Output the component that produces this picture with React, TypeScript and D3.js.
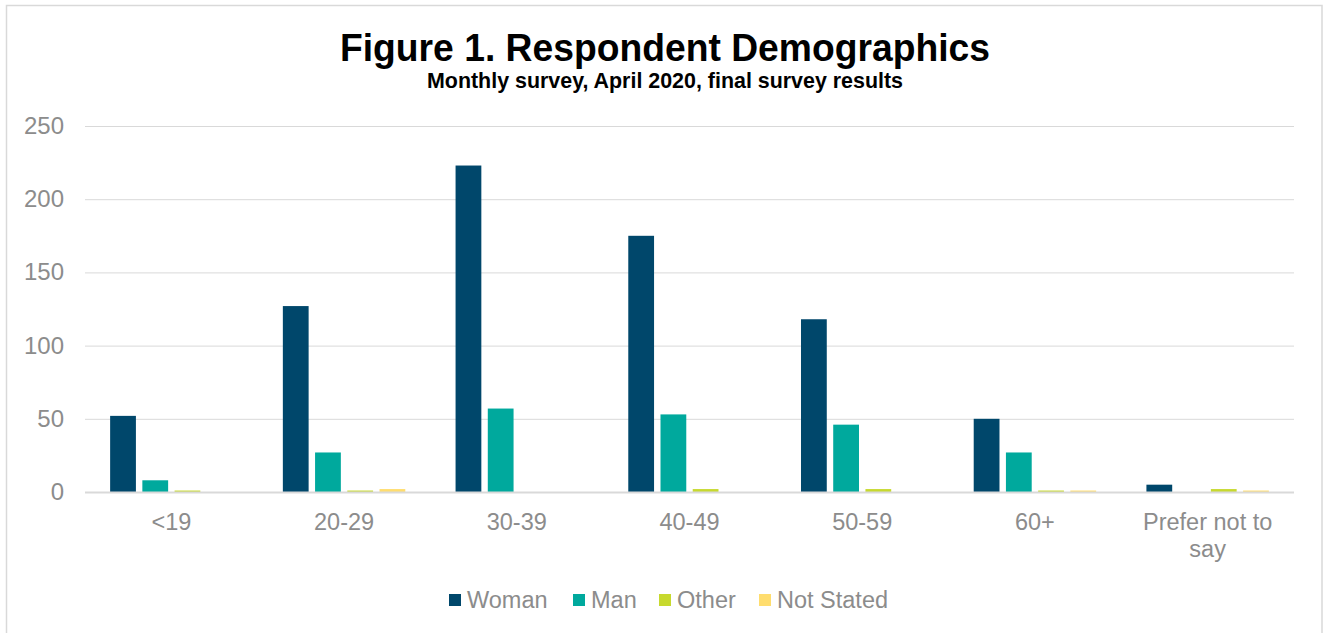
import React from "react";
import * as d3 from "d3";

const categories = ["<19", "20-29", "30-39", "40-49", "50-59", "60+", "Prefer not to say"];
const seriesNames = ["Woman", "Man", "Other", "Not Stated"];
const woman = [52, 127, 223, 175, 118, 50, 5];
const man = [8, 27, 57, 53, 46, 27, 0];
const other = [1, 1, 0, 2, 2, 1, 2];
const notStated = [0, 2, 0, 0, 0, 1, 1];
const yTicks = [0, 50, 100, 150, 200, 250];
const colors = ["#00476B", "#00A99D", "#C7D92E", "#FFDD6E"];

const W = 1324;
const H = 633;
const FONT = "'Liberation Sans', Arial, sans-serif";

export default function App() {
  const values = [woman, man, other, notStated];
  const left = 85;
  const right = 1294;
  const top = 126;
  const bottom = 492;

  const x = d3.scaleBand<string>().domain(categories).range([left, right]).padding(0);
  const y = d3.scaleLinear().domain([0, 250]).range([bottom, top]);
  const inner = d3
    .scaleBand<string>()
    .domain(seriesNames)
    .range([0, x.bandwidth()])
    .paddingInner(0.2)
    .paddingOuter(0.78);

  const wrapLabel = (c: string) =>
    c === "Prefer not to say" ? ["Prefer not to", "say"] : [c];

  const legendX = [449, 573, 659, 759];

  return (
    <svg
      width={W}
      height={H}
      style={{ position: "absolute", left: 0, top: 0, background: "#fff" }}
      fontFamily={FONT}
    >
      <rect x={6.5} y={5.5} width={1315.5} height={H + 10} fill="#fff" stroke="#D9D9D9" strokeWidth={1.5} />

      <text
        x={665}
        y={61}
        textAnchor="middle"
        fontSize={39}
        fontWeight="bold"
        fill="#000"
        textLength={650}
        lengthAdjust="spacingAndGlyphs"
      >
        Figure 1. Respondent Demographics
      </text>
      <text
        x={665}
        y={88}
        textAnchor="middle"
        fontSize={21.5}
        fontWeight="bold"
        fill="#000"
        textLength={476}
        lengthAdjust="spacingAndGlyphs"
      >
        Monthly survey, April 2020, final survey results
      </text>

      {yTicks.map((t) => (
        <g key={t}>
          {t !== 0 && (
            <line x1={left} x2={right} y1={y(t) + 0.5} y2={y(t) + 0.5} stroke="#D9D9D9" strokeWidth={1} />
          )}
          <text x={64} y={y(t) + 8} textAnchor="end" fontSize={24} fill="#8C8C8C">
            {t}
          </text>
        </g>
      ))}

      {categories.map((c, ci) => (
        <g key={c} transform={`translate(${x(c)},0)`}>
          {seriesNames.map((s, si) => {
            const v = values[si][ci];
            if (v <= 0) return null;
            return (
              <rect
                key={s}
                x={inner(s)}
                y={y(v)}
                width={inner.bandwidth()}
                height={bottom - y(v)}
                fill={colors[si]}
              />
            );
          })}
          {wrapLabel(c).map((line, li) => (
            <text
              key={li}
              x={x.bandwidth() / 2}
              y={530 + li * 27}
              textAnchor="middle"
              fontSize={23.5}
              fill="#8C8C8C"
            >
              {line}
            </text>
          ))}
        </g>
      ))}

      <line x1={left} x2={right} y1={bottom + 0.5} y2={bottom + 0.5} stroke="#D9D9D9" strokeWidth={2} />

      {seriesNames.map((s, i) => (
        <g key={s} transform={`translate(${legendX[i]},0)`}>
          <rect x={0} y={594} width={12} height={12} fill={colors[i]} />
          <text x={18} y={607.5} fontSize={23.5} fill="#8C8C8C">
            {s}
          </text>
        </g>
      ))}
    </svg>
  );
}
